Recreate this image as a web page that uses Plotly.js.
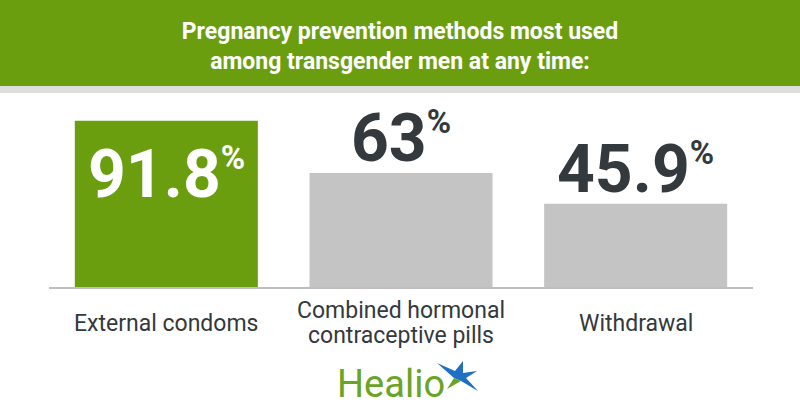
<!DOCTYPE html>
<html>
<head>
<meta charset="utf-8">
<script src="https://cdn.plot.ly/plotly-3.0.1.min.js"></script>
<style>html,body{margin:0;padding:0;background:#fff;}#chart{width:800px;height:420px;}</style>
</head>
<body>
<div id="chart"></div>
<script>
const titleText = 'Pregnancy prevention methods most used<br>among transgender men at any time:';
const categories = ['External condoms', 'Combined hormonal<br>contraceptive pills', 'Withdrawal'];
const values = [91.8, 63, 45.9];
const valueSuffix = '%';
const highlightIndex = 0;
const logoText = 'Healio';

const GREEN = '#6a9e0f';
const GRAY = '#c4c4c4';
const DARK = '#33393c';

// plot-area geometry in pixels
const L = 49, R = 47, T = 95, B = 133, W = 800, H = 420;
const PW = W - L - R, PH = H - T - B;
const px = X => (X - L) / PW;
const py = Y => (H - B - Y) / PH;

const barColors = categories.map((c, i) => i === highlightIndex ? GREEN : GRAY);

const trace = {
  type: 'bar',
  x: categories,
  y: values,
  marker: {color: barColors, line: {width: 0}},
  hoverinfo: 'none'
};

const annotations = [];
const LABEL_CENTER = 323, LABEL_STEP = 25;
values.forEach((v, i) => {
  const inside = i === highlightIndex;
  annotations.push({
    x: categories[i], y: v, xref: 'x', yref: 'y',
    text: v + '<sup><span style="font-size:33px">' + valueSuffix + '</span></sup>',
    showarrow: false,
    xanchor: 'center',
    yanchor: inside ? 'top' : 'bottom',
    yshift: inside ? -13 : -6,
    font: {family: 'Roboto', size: 66, weight: 700, color: inside ? '#ffffff' : DARK}
  });
  const lines = categories[i].split('<br>');
  lines.forEach((ln, k) => {
    const yc = LABEL_CENTER + (k - (lines.length - 1) / 2) * LABEL_STEP;
    annotations.push({
      x: categories[i], y: py(yc), xref: 'x', yref: 'paper',
      text: ln, showarrow: false,
      xanchor: 'center', yanchor: 'middle',
      font: {family: 'Roboto', size: 23, color: DARK}
    });
  });
});
annotations.push({
  x: px(391), y: py(384), xref: 'paper', yref: 'paper',
  text: logoText, showarrow: false, xanchor: 'center', yanchor: 'middle',
  font: {family: 'Roboto', size: 38, color: '#6aa424'}
});

const shapes = [
  {type: 'rect', xref: 'paper', yref: 'paper', x0: px(0), x1: px(800), y0: py(0), y1: py(86),
   fillcolor: GREEN, line: {width: 0}, layer: 'below'},
  {type: 'rect', xref: 'paper', yref: 'paper', x0: px(0), x1: px(800), y0: py(86), y1: py(93),
   fillcolor: '#dedede', line: {width: 0}, layer: 'below'}
];
// logo star (decoration)
const starPts = [[437,363],[455,371],[463,361],[463,373],[477,371],[466,378],[478,391],[461,381],[454,378]];
const starPath = 'M ' + starPts.map(p => px(p[0]) + ',' + py(p[1])).join(' L ') + ' Z';
shapes.push({type: 'path', xref: 'paper', yref: 'paper', path: starPath, fillcolor: '#1f6fc4', line: {width: 0}});
const greenPts = [[461,381],[447,389],[454,378]];
shapes.push({type: 'path', xref: 'paper', yref: 'paper',
  path: 'M ' + greenPts.map(p => px(p[0]) + ',' + py(p[1])).join(' L ') + ' Z',
  fillcolor: '#6aa424', line: {width: 0}});

const layout = {
  width: W, height: H,
  margin: {l: L, r: R, t: T, b: B, pad: 0},
  paper_bgcolor: '#ffffff', plot_bgcolor: '#ffffff',
  showlegend: false,
  bargap: 0.22,
  title: {
    text: titleText,
    font: {family: 'Roboto', size: 23, weight: 700, color: '#ffffff'},
    x: 0.5, xanchor: 'center', y: 1 - 39 / H, yref: 'container', yanchor: 'middle'
  },
  xaxis: {
    type: 'category', range: [-0.5, 2.5], fixedrange: true,
    showticklabels: false, ticks: '', showgrid: false, zeroline: false,
    showline: true, linecolor: '#bfbfbf', linewidth: 2
  },
  yaxis: {range: [0, 106], visible: false, fixedrange: true},
  annotations: annotations,
  shapes: shapes
};

Plotly.newPlot('chart', [trace], layout, {displayModeBar: false, staticPlot: true});
</script>
</body>
</html>
